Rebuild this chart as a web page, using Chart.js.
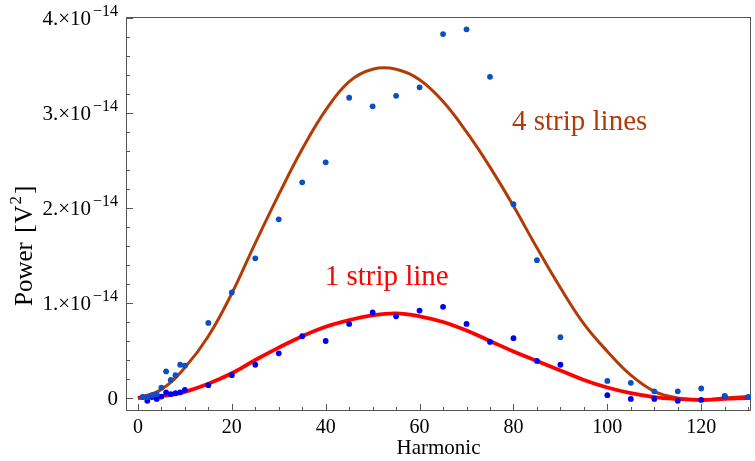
<!DOCTYPE html>
<html>
<head>
<meta charset="utf-8">
<script src="https://cdn.jsdelivr.net/npm/chart.js@4.4.0/dist/chart.umd.min.js"></script>
<style>
  html, body { margin: 0; padding: 0; background: #fff; }
  #wrap { width: 755px; height: 461px; position: relative; }
</style>
</head>
<body>
<div id="wrap"><canvas id="powerChart"></canvas></div>
<script>
// harmonic numbers that were measured
const harmonics = [1, 2, 3, 4, 5, 6, 7, 8, 9, 10, 15, 20, 25, 30, 35, 40, 45, 50, 55, 60,
                   65, 70, 75, 80, 85, 90, 100, 105, 110, 115, 120, 125, 130];
// measured power, in units of 1e-14 V^2
const power4Strip = [0.01, 0.01, 0.03, 0.04, 0.11, 0.28, 0.19, 0.24, 0.35, 0.34,
                     0.79, 1.11, 1.47, 1.88, 2.27, 2.48, 3.16, 3.07, 3.18, 3.27,
                     3.83, 3.88, 3.38, 2.04, 1.45, 0.64, 0.18, 0.16, 0.07, 0.07, 0.10, 0.02, 0.01];
const power1Strip = [0.01, -0.03, 0.01, -0.01, 0.015, 0.06, 0.04, 0.05, 0.06, 0.085,
                     0.135, 0.24, 0.35, 0.47, 0.65, 0.60, 0.78, 0.90, 0.86, 0.92,
                     0.96, 0.78, 0.59, 0.63, 0.39, 0.35, 0.03, -0.01, -0.01, -0.03, -0.02, 0.02, 0.01];

const curveHarmonics = [0, 5, 10, 15, 20, 25, 30, 35, 40, 45, 50, 55, 60, 65, 70, 75, 80, 85, 90,
                        95, 100, 105, 110, 115, 120, 125, 130];
const model4Strip = [0, 0.09, 0.32, 0.65, 1.10, 1.63, 2.14, 2.62, 3.03, 3.33, 3.46, 3.46, 3.35, 3.12,
                     2.80, 2.43, 2.02, 1.58, 1.16, 0.78, 0.49, 0.24, 0.07, 0.0, -0.02, 0.0, 0.015];
const model1Strip = [0, 0.02, 0.065, 0.15, 0.26, 0.40, 0.53, 0.65, 0.75, 0.82, 0.87, 0.89, 0.86, 0.80,
                     0.71, 0.60, 0.49, 0.39, 0.29, 0.19, 0.11, 0.05, 0.01, -0.01, -0.02, -0.01, 0.0];

const xTicks = [0, 20, 40, 60, 80, 100, 120];
const yTicks = [0, 1, 2, 3, 4];
const yTickLabels = ['0', '1.×10', '2.×10', '3.×10', '4.×10'];
const yTickExponents = ['', '−14', '−14', '−14', '−14'];

const SERIF = '"Liberation Serif", "DejaVu Serif", serif';
const BROWN = '#b23c07';
const RED = '#ff0000';
const FRAME = '#555';

function toPoints(xs, ys) {
    return xs.map((x, i) => ({ x: x, y: ys[i] }));
}

// frame, inward ticks, y tick labels, y title and the two curve labels
const decorations = {
    id: 'decorations',
    beforeDatasetsDraw(chart) {
        const { ctx, chartArea: a, scales: { x, y } } = chart;
        ctx.save();
        ctx.strokeStyle = FRAME;
        ctx.lineWidth = 1;
        ctx.strokeRect(a.left + 0.5, a.top + 0.5, a.right - a.left - 1, a.bottom - a.top - 1);
        for (let v = 0; v <= 130; v += 5) {
            const px = Math.round(x.getPixelForValue(v)) + 0.5;
            const len = v % 20 === 0 ? 7 : 4;
            ctx.beginPath();
            ctx.moveTo(px, a.bottom);
            ctx.lineTo(px, a.bottom - len);
            ctx.stroke();
        }
        for (let i = 0; i <= 20; i++) {
            const py = Math.round(y.getPixelForValue(i * 0.2)) + 0.5;
            const len = i % 5 === 0 ? 7 : 4;
            ctx.beginPath();
            ctx.moveTo(a.left, py);
            ctx.lineTo(a.left + len, py);
            ctx.stroke();
        }
        ctx.restore();
    },
    afterDraw(chart) {
        const { ctx, chartArea: a, scales: { x, y } } = chart;

        // y tick labels with raised exponent
        ctx.save();
        ctx.fillStyle = '#000';
        ctx.textBaseline = 'alphabetic';
        ctx.textAlign = 'left';
        const right = a.left - 8;
        yTicks.forEach((v, i) => {
            const py = y.getPixelForValue(v);
            const base = py + 7;
            ctx.font = '16px ' + SERIF;
            const expW = yTickExponents[i] ? ctx.measureText(yTickExponents[i]).width + 2 : 0;
            ctx.font = '21px ' + SERIF;
            const mainW = ctx.measureText(yTickLabels[i]).width;
            ctx.fillText(yTickLabels[i], right - expW - mainW, base);
            if (expW) {
                ctx.font = '16px ' + SERIF;
                ctx.fillText(yTickExponents[i], right - expW + 2, base - 9);
            }
        });
        ctx.restore();

        // y title: Power [V^2]
        ctx.save();
        ctx.fillStyle = '#000';
        ctx.textBaseline = 'alphabetic';
        ctx.textAlign = 'left';
        ctx.translate(32, 306);
        ctx.rotate(-Math.PI / 2);
        let u = 0;
        ctx.font = '25px ' + SERIF;
        ctx.fillText('Power', u, 0);
        u += ctx.measureText('Power ').width + 3;
        ctx.fillText('[', u, 0);
        u += ctx.measureText('[').width + 1;
        ctx.fillText('V', u, 0);
        u += ctx.measureText('V').width + 1;
        ctx.font = '17px ' + SERIF;
        ctx.fillText('2', u, -11);
        u += ctx.measureText('2').width + 2;
        ctx.font = '25px ' + SERIF;
        ctx.fillText(']', u, 0);
        ctx.restore();

        // curve labels
        ctx.save();
        ctx.textAlign = 'center';
        ctx.textBaseline = 'middle';
        ctx.font = '29px ' + SERIF;
        ctx.fillStyle = BROWN;
        ctx.fillText('4 strip lines', x.getPixelForValue(94.1), y.getPixelForValue(2.90));
        ctx.fillStyle = RED;
        ctx.fillText('1 strip line', x.getPixelForValue(53.0), y.getPixelForValue(1.27));
        ctx.restore();
    }
};

const chart = new Chart(document.getElementById('powerChart'), {
    type: 'scatter',
    data: {
        datasets: [
            {
                label: '4 strip lines data',
                data: toPoints(harmonics, power4Strip),
                backgroundColor: '#0a50c4',
                borderWidth: 0,
                pointRadius: 2.9
            },
            {
                label: '1 strip line data',
                data: toPoints(harmonics, power1Strip),
                backgroundColor: '#0000f5',
                borderWidth: 0,
                pointRadius: 2.9
            },
            {
                label: '1 strip line',
                type: 'line',
                data: toPoints(curveHarmonics, model1Strip),
                borderColor: RED,
                borderWidth: 3.8,
                pointRadius: 0,
                tension: 0.4,
                fill: false
            },
            {
                label: '4 strip lines',
                type: 'line',
                data: toPoints(curveHarmonics, model4Strip),
                borderColor: BROWN,
                borderWidth: 3,
                pointRadius: 0,
                tension: 0.4,
                fill: false
            }
        ]
    },
    options: {
        responsive: true,
        maintainAspectRatio: false,
        animation: false,
        layout: { padding: { top: 17, right: 0, left: 0, bottom: 0 } },
        plugins: {
            legend: { display: false },
            tooltip: { enabled: false }
        },
        scales: {
            x: {
                type: 'linear',
                min: -2.54,
                max: 130.6,
                grid: { display: false, drawTicks: false },
                border: { display: false },
                afterBuildTicks: (scale) => { scale.ticks = xTicks.map(v => ({ value: v })); },
                afterFit: (scale) => { scale.height = 50; },
                ticks: {
                    color: '#000',
                    padding: 5,
                    maxRotation: 0,
                    font: { family: SERIF, size: 20 }
                },
                title: {
                    display: true,
                    text: 'Harmonic',
                    color: '#000',
                    padding: { top: 0, bottom: 0 },
                    font: { family: SERIF, size: 21 }
                }
            },
            y: {
                type: 'linear',
                min: -0.137,
                max: 4.01,
                grid: { display: false, drawTicks: false },
                border: { display: false },
                afterBuildTicks: (scale) => { scale.ticks = yTicks.map(v => ({ value: v })); },
                afterFit: (scale) => { scale.width = 126; },
                ticks: { display: false }
            }
        }
    },
    plugins: [decorations]
});
</script>
</body>
</html>
